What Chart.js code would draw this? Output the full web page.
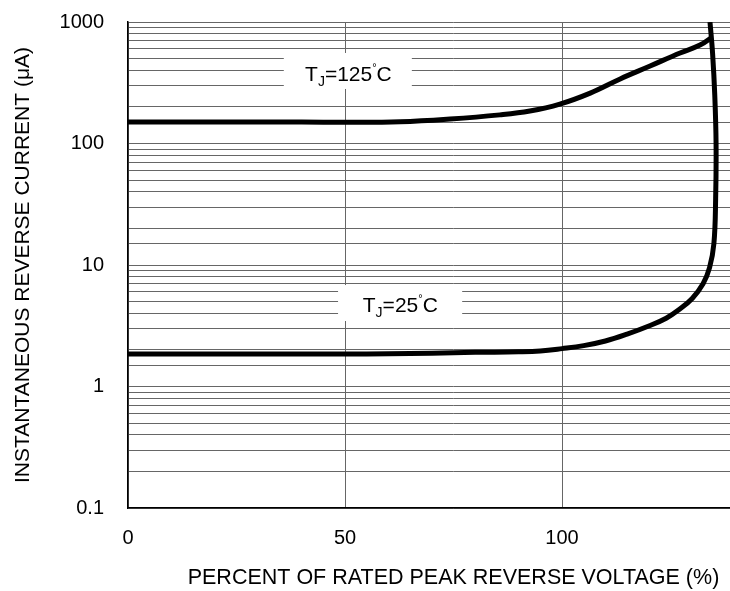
<!DOCTYPE html>
<html>
<head>
<meta charset="utf-8">
<script src="https://cdn.jsdelivr.net/npm/chart.js@4.4.0/dist/chart.umd.min.js"></script>
<style>
html, body { margin: 0; padding: 0; background: #fff; overflow: hidden; }
#wrap { width: 800px; height: 591px; }
</style>
</head>
<body>
<div id="wrap"><canvas id="leak-chart" width="800" height="591"></canvas></div>
<script>
// values (x = % of rated voltage, y = current in uA)
const x125 = [0, 20, 40, 50, 62.7, 74.2, 85.7, 92.6, 99.5, 106.5, 113.4, 120.3, 127.2, 131.8, 134.6]
const y125 = [150, 150, 150, 149.5, 151, 159, 172, 185, 211, 260, 340, 434, 556, 646, 752]

const x25 = [0, 30, 50, 60, 70, 80, 90, 95, 100, 105, 110, 115, 120, 124, 127, 130, 132.5, 134, 135, 135.4, 135.5, 135.2, 134.7, 134.1]
const y25 = [1.85, 1.85, 1.85, 1.86, 1.88, 1.91, 1.93, 1.96, 2.05, 2.17, 2.37, 2.7, 3.15, 3.65, 4.3, 5.3, 7.0, 9.5, 15, 35, 100, 250, 550, 1000]

const xTicks = [0, 50, 100]
const yTicks = [0.1, 1, 10, 100, 1000]
const tempLabels = ['125', '25']

const FONT = '"Liberation Sans", Arial, sans-serif'

function toPoints(xs, ys){
    return xs.map((v, i) => ({x: v, y: ys[i]}))
}

// white boxes with the T_J labels, in data units
const boxes = [
    {x0: 35.9, x1: 65.4, y0: 556, y1: 281, tx: 40.8, ty: 380, t: tempLabels[0]},
    {x0: 48.4, x1: 77.0, y0: 6.84, y1: 3.46, tx: 54.1, ty: 4.73, t: tempLabels[1]},
]

const labelBoxes = {
    id: 'labelBoxes',
    beforeDatasetsDraw(chart){
        const {ctx, scales: {x, y}} = chart
        ctx.save()
        boxes.forEach(b => {
            const l = x.getPixelForValue(b.x0), r = x.getPixelForValue(b.x1)
            const t = y.getPixelForValue(b.y0), bt = y.getPixelForValue(b.y1)
            ctx.fillStyle = '#fff'
            ctx.fillRect(l, t, r - l, bt - t)

            let px = x.getPixelForValue(b.tx)
            const base = y.getPixelForValue(b.ty) + 7.5
            const parts = [['T', 21, 0], ['J', 14, 5], ['=' + b.t, 21, 0], ['\u00b0', 11, -10], ['C', 21, 0]]
            ctx.fillStyle = '#000'
            ctx.textBaseline = 'alphabetic'
            ctx.textAlign = 'left'
            parts.forEach(p => {
                ctx.font = p[1] + 'px ' + FONT
                ctx.fillText(p[0], px, base + p[2])
                px += ctx.measureText(p[0]).width
            })
        })
        ctx.restore()
    }
}

const ctx = document.querySelector('#leak-chart')

const myChart = new Chart(ctx, {
    type: 'line',
    data: {
        datasets: [
            {
                label: 'TJ=125C',
                data: toPoints(x125, y125),
                borderColor: '#000',
                borderWidth: 5,
                pointRadius: 0,
                tension: 0.4,
                fill: false,
            },
            {
                label: 'TJ=25C',
                data: toPoints(x25, y25),
                borderColor: '#000',
                borderWidth: 5,
                pointRadius: 0,
                tension: 0.4,
                fill: false,
            }
        ]
    },
    options: {
        responsive: false,
        animation: false,
        layout: {padding: {left: 0, top: 22, right: 21, bottom: 0}},
        plugins: {
            legend: {display: false},
            tooltip: {enabled: false},
        },
        scales: {
            x: {
                type: 'linear',
                min: 0,
                max: 150,
                afterFit: s => { s.height = 83 },
                afterBuildTicks: s => { s.ticks = xTicks.map(v => ({value: v})) },
                grid: {color: '#666', lineWidth: 1, drawTicks: false},
                border: {color: '#000', width: 1.5},
                ticks: {
                    color: '#000',
                    padding: 18,
                    font: {family: FONT, size: 20},
                    maxRotation: 0,
                },
                title: {
                    display: true,
                    text: 'PERCENT OF RATED PEAK REVERSE VOLTAGE (%)',
                    color: '#000',
                    font: {family: FONT, size: 21.5},
                    padding: {top: 0, bottom: 0},
                }
            },
            y: {
                type: 'logarithmic',
                min: 0.1,
                max: 1000,
                afterFit: s => { s.width = 128 },
                grid: {color: '#666', lineWidth: 1, drawTicks: true, tickLength: 22, tickColor: 'rgba(0,0,0,0)'},
                border: {color: '#000', width: 1.5},
                ticks: {
                    color: '#000',
                    padding: 2,
                    font: {family: FONT, size: 20},
                    autoSkip: false,
                    callback: v => yTicks.includes(v) ? String(v) : '',
                },
                title: {
                    display: true,
                    text: 'INSTANTANEOUS REVERSE CURRENT (\u03bcA)',
                    color: '#000',
                    font: {family: FONT, size: 21},
                    padding: {top: 11, bottom: 0},
                }
            }
        }
    },
    plugins: [labelBoxes]
});
</script>
</body>
</html>
